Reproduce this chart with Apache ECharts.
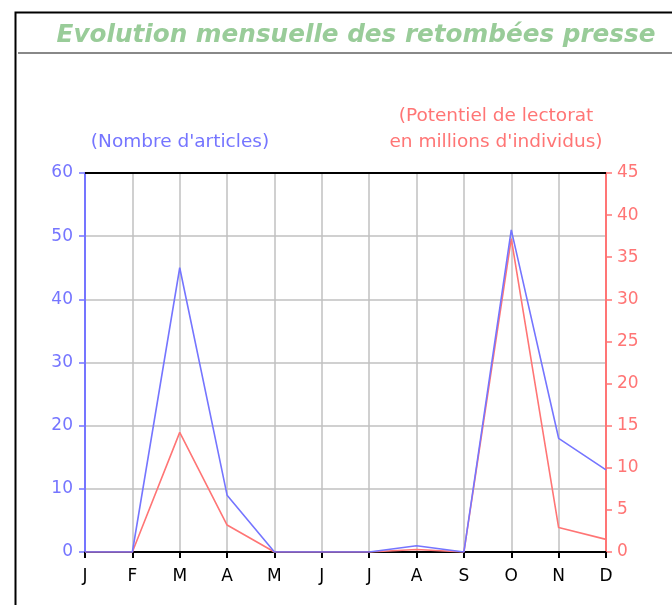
<!DOCTYPE html>
<html>
<head>
<meta charset="utf-8">
<script src="https://cdn.jsdelivr.net/npm/echarts@6/dist/echarts.min.js"></script>
<style>
  html, body { margin: 0; padding: 0; background: #fff; }
  #chart { width: 672px; height: 605px; }
</style>
</head>
<body>
<div id="chart"></div>
<script>
// mois
const months = ['J', 'F', 'M', 'A', 'M', 'J', 'J', 'A', 'S', 'O', 'N', 'D'];
// nombre d'articles (axe gauche)
const articles = [0, 0, 45, 9, 0, 0, 0, 1, 0, 51, 18, 13];
// potentiel de lectorat en millions (axe droit)
const lectorat = [0, 0, 14.2, 3.2, 0, 0, 0, 0.3, 0, 37.2, 2.9, 1.5];

const blue = '#7575ff';
const red = '#ff7575';
const font = 'DejaVu Sans, Verdana, sans-serif';

const chart = echarts.init(document.getElementById('chart'));
chart.setOption({
  animation: false,
  title: {
    text: 'Evolution mensuelle des retombées presse',
    left: 351,
    top: 18,
    textAlign: 'center',
    textStyle: { color: '#99cc99', fontSize: 24.7, fontWeight: 'bold', fontStyle: 'italic', fontFamily: font }
  },
  graphic: [
    // cadre
    { type: 'rect', shape: { x: 15.5, y: 12.5, width: 700, height: 700 }, style: { fill: 'none', stroke: '#000', lineWidth: 2 }, z: 10 },
    { type: 'line', shape: { x1: 18, y1: 53, x2: 672, y2: 53 }, style: { stroke: '#888', lineWidth: 2 } },
    // bord haut du graphique
    { type: 'line', shape: { x1: 85, y1: 173, x2: 606, y2: 173 }, style: { stroke: '#000', lineWidth: 2 }, z: 5 },
    { type: 'text', x: 180, y: 142, style: { text: "(Nombre d'articles)", fill: blue, font: '18.5px ' + font, align: 'center', verticalAlign: 'middle' } },
    { type: 'text', x: 496, y: 129, style: { text: '(Potentiel de lectorat\nen millions d\'individus)', fill: red, font: '18.5px ' + font, align: 'center', verticalAlign: 'middle', lineHeight: 26 } }
  ],
  grid: { left: 85, right: 66, top: 173, bottom: 53 },
  xAxis: {
    type: 'category',
    data: months,
    boundaryGap: false,
    axisLine: { lineStyle: { color: '#000', width: 2 } },
    axisTick: { show: true, length: 6, lineStyle: { color: '#000', width: 2 }, alignWithLabel: true },
    axisLabel: { color: '#000', fontSize: 17, fontFamily: font, margin: 16 },
    splitLine: { show: true, lineStyle: { color: '#c0c0c0', width: 1.5 } }
  },
  yAxis: [
    {
      type: 'value', min: 0, max: 60, interval: 10, position: 'left',
      axisLine: { show: true, lineStyle: { color: blue, width: 2 } },
      axisTick: { show: true, length: 6, lineStyle: { color: blue, width: 1.5 } },
      axisLabel: { color: blue, fontSize: 17, fontFamily: font, margin: 12 },
      splitLine: { show: true, lineStyle: { color: '#c0c0c0', width: 1.5 } }
    },
    {
      type: 'value', min: 0, max: 45, interval: 5, position: 'right',
      axisLine: { show: true, lineStyle: { color: red, width: 2 } },
      axisTick: { show: true, length: 6, lineStyle: { color: red, width: 1.5 } },
      axisLabel: { color: red, fontSize: 17, fontFamily: font, margin: 11 },
      splitLine: { show: false }
    }
  ],
  series: [
    { name: 'Articles', type: 'line', yAxisIndex: 0, data: articles, showSymbol: false, lineStyle: { color: blue, width: 1.6 }, z: 3 },
    { name: 'Lectorat', type: 'line', yAxisIndex: 1, data: lectorat, showSymbol: false, lineStyle: { color: red, width: 1.6 }, z: 2 }
  ]
});
</script>
</body>
</html>
